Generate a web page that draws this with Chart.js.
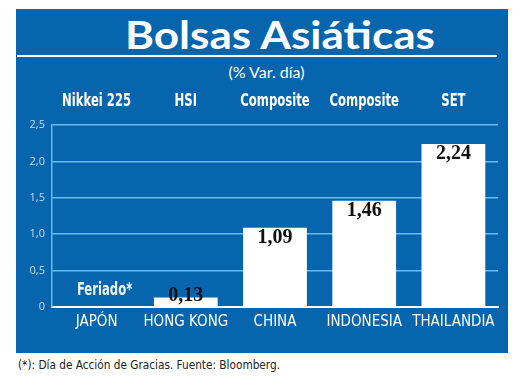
<!DOCTYPE html>
<html>
<head>
<meta charset="utf-8">
<script src="https://cdn.jsdelivr.net/npm/chart.js@4/dist/chart.umd.min.js"></script>
<style>
  html, body { margin: 0; padding: 0; background: #ffffff; }
  #wrap { position: relative; width: 520px; height: 385px; overflow: hidden; }
  #panel { position: absolute; left: 16px; top: 9px; width: 492px; height: 344px; background: #0765ae; }
  #rule { position: absolute; left: 17px; top: 55px; width: 480px; height: 2px; background: #ffffff; }
  #title { position: absolute; left: 0; top: 11px; width: 520px; text-align: left; white-space: nowrap;
           font: bold 39px "Lato", "Open Sans", sans-serif; color: #ffffff; line-height: 46px; }
  #title span, #foot span { display: inline-block; transform-origin: 0 0; }
  #sub { position: absolute; left: 0; top: 62px; width: 533px; text-align: center;
         font: 16px "Lato", "Open Sans", sans-serif; color: #ffffff; line-height: 20px; }
  #foot { position: absolute; left: 18px; top: 357px; white-space: nowrap;
          font: 13px "DejaVu Sans Condensed", "DejaVu Sans", sans-serif; color: #222222; }
  canvas { position: absolute; left: 0; top: 0; }
</style>
</head>
<body>
<div id="wrap">
  <div id="panel"></div>
  <div id="rule"></div>
  <div id="title"><span id="titleText">Bolsas Asiáticas</span></div>
  <div id="sub">(% Var. día)</div>
  <div id="foot"><span id="footText">(*): Día de Acción de Gracias. Fuente: Bloomberg.</span></div>
  <canvas id="c" width="520" height="385"></canvas>
</div>
<script>
// ---- data ----
const categories = ['JAPÓN', 'HONG KONG', 'CHINA', 'INDONESIA', 'THAILANDIA'];
const seriesNames = ['Nikkei 225', 'HSI', 'Composite', 'Composite', 'SET'];
const values = [null, 0.13, 1.09, 1.46, 2.24];
const notes = ['Feriado*', null, null, null, null];
const yTicks = [0, 0.5, 1.0, 1.5, 2.0, 2.5];

// fit widths of html texts
function fitWidth(id, target, shiftX) {
  const t = document.getElementById(id);
  const w = t.getBoundingClientRect().width;
  t.style.transform = 'translateX(' + shiftX + 'px) scaleX(' + (target / w) + ')';
}
fitWidth('titleText', 310, 125);
fitWidth('footText', 262, 0);

const fmt = (v, d) => v.toFixed(d).replace('.', ',');
const cond = '"DejaVu Sans Condensed", "DejaVu Sans", sans-serif';

function drawCondensed(ctx, text, x, y, font, sx, color) {
  ctx.save();
  ctx.font = font;
  ctx.fillStyle = color;
  ctx.textAlign = 'center';
  ctx.textBaseline = 'middle';
  ctx.translate(x, y);
  ctx.scale(sx, 1);
  ctx.fillText(text, 0, 0);
  ctx.restore();
}

const labelPlugin = {
  id: 'valueLabels',
  afterDatasetsDraw(chart) {
    const ctx = chart.ctx;
    const meta = chart.getDatasetMeta(0);
    const xs = chart.scales.x;
    const x2 = chart.scales.x2;
    const area = chart.chartArea;
    // series names along the top axis
    seriesNames.forEach((name, i) => {
      drawCondensed(ctx, name, x2.getPixelForValue(i), 101, 'bold 18px ' + cond, 0.72, '#ffffff');
    });
    ctx.save();
    ctx.textAlign = 'center';
    ctx.textBaseline = 'middle';
    meta.data.forEach((bar, i) => {
      const v = values[i];
      if (v !== null && v !== undefined) {
        ctx.font = 'bold 20px "Liberation Serif", "DejaVu Serif", serif';
        ctx.fillStyle = '#111111';
        const y = Math.min(bar.y + 10, area.bottom - 11);
        ctx.fillText(fmt(v, 2), bar.x, y);
      }
      if (notes[i]) {
        drawCondensed(ctx, notes[i], xs.getPixelForValue(i) + 8, area.bottom - 17, 'bold 18px ' + cond, 0.72, '#eef5fc');
      }
    });
    ctx.restore();
  }
};

new Chart(document.getElementById('c'), {
  type: 'bar',
  data: {
    labels: categories,
    datasets: [{
      data: values,
      backgroundColor: '#ffffff',
      borderWidth: 0,
      barPercentage: 0.715,
      categoryPercentage: 1.0
    }]
  },
  options: {
    responsive: false,
    animation: false,
    layout: { padding: { left: 0, right: 22, top: 0, bottom: 0 } },
    plugins: { legend: { display: false }, tooltip: { enabled: false }, title: { display: false } },
    scales: {
      x: {
        position: 'bottom',
        grid: { display: false, drawTicks: false },
        border: { display: true, color: '#ffffff', width: 2 },
        ticks: { color: '#ffffff', font: { family: cond, size: 15 }, padding: 6, maxRotation: 0, autoSkip: false },
        afterFit(s) { s.height = 78; }
      },
      x2: {
        type: 'category',
        labels: seriesNames,
        position: 'top',
        grid: { display: false, drawTicks: false },
        border: { display: false },
        ticks: { display: false },
        afterFit(s) { s.height = 125; }
      },
      y: {
        min: 0, max: 2.5,
        afterBuildTicks(s) { s.ticks = yTicks.map(v => ({ value: v })); },
        grid: {
          drawTicks: false,
          color: ctx => (ctx.tick && ctx.tick.value === 0) ? 'rgba(0,0,0,0)' : '#6bbcef',
          lineWidth: 1.5
        },
        border: { display: true, color: '#6bbcef', width: 1.5 },
        ticks: {
          color: '#c4dcf2',
          font: { family: '"Open Sans", sans-serif', size: 11 },
          padding: 7,
          callback: v => v === 0 ? '0' : fmt(v, 1)
        },
        afterFit(s) { s.width = 52; }
      }
    }
  },
  plugins: [labelPlugin]
});
</script>
</body>
</html>
